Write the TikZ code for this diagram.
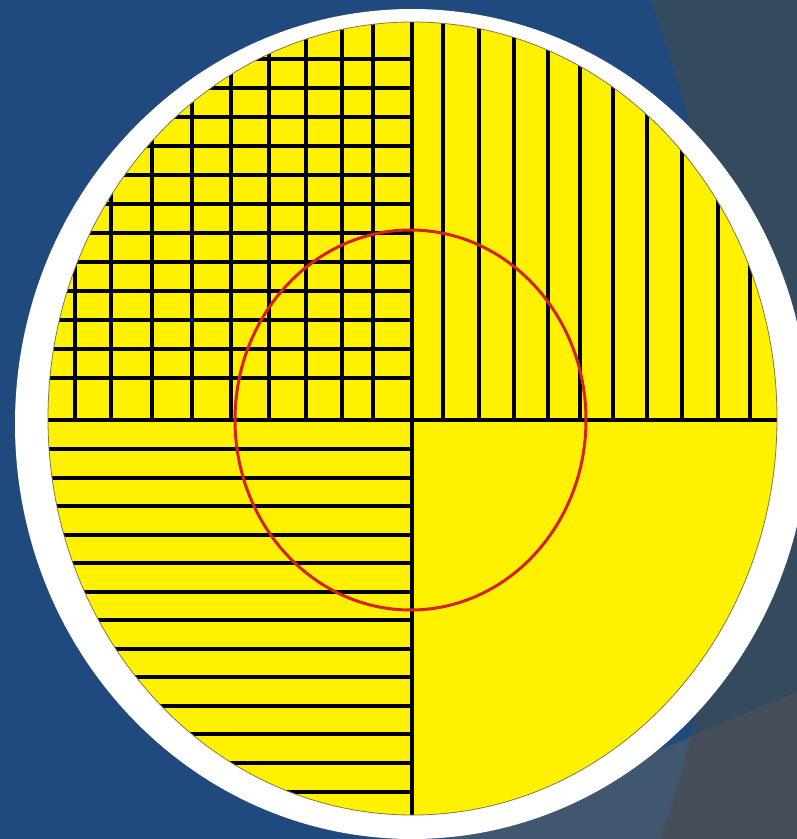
\documentclass[tikz,border=0pt]{standalone}
\definecolor{bgblue}{RGB}{32,74,125}
\definecolor{slate}{RGB}{52,74,95}
\definecolor{graylow}{RGB}{70,78,89}
\definecolor{bluegray}{RGB}{65,87,112}
\definecolor{fillyellow}{RGB}{255,241,0}
\definecolor{rimolive}{RGB}{128,122,70}
\definecolor{ringred}{RGB}{212,34,28}
\tikzset{
  hatch/.style={line width=3.7pt, black},
  axisline/.style={line width=4.4pt, black},
  rim/.style={draw=rimolive, line width=0.8pt},
  redring/.style={draw=ringred, line width=3pt}
}
\begin{document}
\begin{tikzpicture}[x=1pt,y=-1pt]
\useasboundingbox (0,0) rectangle (797,839);
% background
\fill[bgblue] (0,0) rectangle (797,839);
% slate facet (outside a large circle)
\begin{scope}
  \clip (0,0) rectangle (797,839);
  \fill[slate, even odd rule] (-1000,-500) rectangle (1000,1400)
        (-510.8,433.4) circle[radius=1239];
  % lower grey facet
  \fill[bluegray] (1000,606) -- (400,860) -- (1000,860) -- cycle;
  \begin{scope}[even odd rule]
    \clip (-1000,-500) rectangle (1000,1400)
        (-510.8,433.4) circle[radius=1239];
    \fill[graylow] (1000,606) -- (400,860) -- (1000,860) -- cycle;
  \end{scope}
\end{scope}
% white disc
\fill[white] (412,424) ellipse [x radius=397, y radius=415];
% yellow disc
\fill[fillyellow] (412.5,418.5) ellipse [x radius=364.5, y radius=396.5];
\begin{scope}
  \clip (412.5,418.5) ellipse [x radius=364.5, y radius=396.5];
  % top-left grid: vertical lines
  \foreach \x in {75,111,152,192,231,269,306,342,373}
    \draw[hatch] (\x,420) -- (\x,0);
  % top-left grid: horizontal lines
  \foreach \y in {59,88,117,146,175,204,233,262,291,320,349,378}
    \draw[hatch] (0,\y) -- (412,\y);
  % top-right vertical lines
  \foreach \x in {443,479,514,548,580,613,647,682,718,750}
    \draw[hatch] (\x,420) -- (\x,0);
  % bottom-left horizontal lines
  \foreach \y in {449,478,506,535,563,592,620,649,677,706,734,763,792}
    \draw[hatch] (0,\y) -- (412,\y);
  % axes
  \draw[axisline] (0,420) -- (800,420);
  \draw[axisline] (412,0) -- (412,839);
\end{scope}
\draw[rim] (412.5,418.5) ellipse [x radius=364.5, y radius=396.5];
% red ring
\draw[redring] (410.5,420) ellipse [x radius=175.5, y radius=190];
\end{tikzpicture}
\end{document}
